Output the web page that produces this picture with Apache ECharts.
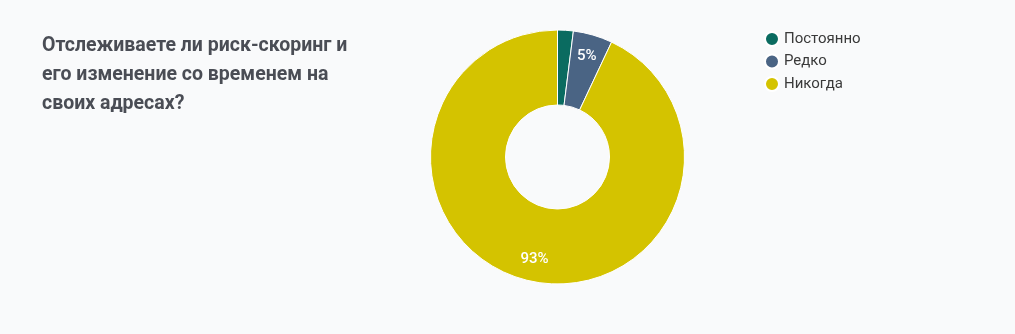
<!DOCTYPE html>
<html><head><meta charset="utf-8">
<script src="https://cdn.jsdelivr.net/npm/echarts@6/dist/echarts.min.js"></script>
<style>html,body{margin:0;padding:0;background:#f9fafb}#c{width:1015px;height:334px}</style>
</head><body><div id="c"></div>
<script>
const titleText = 'Отслеживаете ли риск-скоринг и\nего изменение со временем на\nсвоих адресах?';
const categories = ['Постоянно', 'Редко', 'Никогда'];
const values = [2, 5, 93];
const colors = ['#0a6b60', '#4a6484', '#d4c300'];

const data = categories.map((n, i) => ({ name: n, value: values[i], itemStyle: { color: colors[i] } }));
const labelData = categories.map((n, i) => ({ name: n, value: values[i] }));

const chart = echarts.init(document.getElementById('c'));
chart.setOption({
  backgroundColor: '#f9fafb',
  title: {
    text: titleText, left: 37, top: 27,
    textStyle: { fontFamily: 'Roboto', fontSize: 19.5, fontWeight: 'bold', color: '#4a4d55', lineHeight: 29 }
  },
  legend: {
    orient: 'vertical', left: 759, top: 26, icon: 'circle', itemWidth: 14, itemHeight: 14, itemGap: 6.5,
    data: categories,
    textStyle: { fontFamily: 'Roboto', fontSize: 15, color: '#3a3a3a' }
  },
  series: [{
    type: 'pie', center: [557.5, 157], radius: [52, 127], startAngle: 90,
    data: data, label: { show: false }, labelLine: { show: false },
    itemStyle: { borderColor: '#ffffff', borderWidth: 1 },
    emphasis: { disabled: true }, animation: false
  }, {
    type: 'pie', center: [557.5, 157], radius: [77, 127], startAngle: 90,
    data: labelData, silent: true, legendHoverLink: false,
    itemStyle: { color: 'rgba(0,0,0,0)' },
    minShowLabelAngle: 10,
    label: { show: true, position: 'inside', formatter: '{d}%', color: '#ffffff', fontFamily: 'Roboto', fontSize: 15, fontWeight: 500 },
    labelLine: { show: false },
    emphasis: { disabled: true }, animation: false
  }]
});
</script></body></html>
